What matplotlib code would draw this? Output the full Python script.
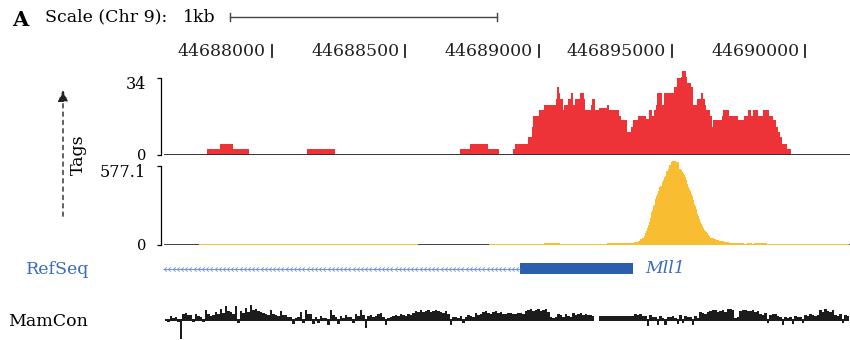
import numpy as np
import matplotlib
matplotlib.use("Agg")
from matplotlib import pyplot as plt
from matplotlib.transforms import blended_transform_factory

plt.rcParams['font.family'] = ['DejaVu Serif']

W, H = 850, 340
CHR0 = 44688000  # all offsets below are bp relative to this position

# ruler on top
ruler_pos = [44688000, 44688500, 44689000, 44689500, 44690000]
ruler_labels = ["44688000", "44688500", "44689000", "446895000", "44690000"]
scale_start = 44687843
scale_len = 1000

# red track (tags), step edges in bp offset and height per step
red_edges = [-243, -195, -146, -86, 131, 236, 704, 742, 809, 850, 903, 910, 962, 974, 981,
             1000, 1019, 1022, 1064, 1071, 1075, 1079, 1090, 1097, 1109, 1120, 1131, 1138,
             1157, 1172, 1176, 1198, 1202, 1213, 1225, 1258, 1266, 1300, 1311, 1333, 1348,
             1356, 1374, 1404, 1416, 1427, 1434, 1442, 1446, 1464, 1472, 1509, 1520, 1535,
             1539, 1554, 1558, 1573, 1580, 1595, 1610, 1618, 1625, 1629, 1644, 1652, 1655,
             1689, 1693, 1715, 1749, 1771, 1786, 1798, 1805, 1824, 1843, 1865, 1880, 1891,
             1899, 1906, 1914, 1932, 1947]
red_tags = [2.6, 4.9, 2.6, 0, 2.6, 0, 2.6, 4.9, 2.6, 0, 2.6, 4.9, 7.9, 12.4,
            17.2, 19.9, 17.2, 22, 24.7, 30, 27.4, 24.7, 19.9, 22, 24.7, 27.4, 22,
            24.7, 27.4, 24.7, 19.9, 22, 24.7, 19.9, 20.7, 22, 19.9, 17.2, 15.4, 10.1,
            12.4, 15.4, 17.2, 15.9, 19.9, 17.2, 19.9, 22, 27.4, 22, 27.4, 30, 34,
            34.4, 37, 34.4, 32, 30, 22, 24.7, 27.4, 24.7, 22, 19.9, 17.2, 12.4,
            15.4, 17.2, 19.9, 17.2, 15.4, 17.2, 19.9, 17.2, 19.9, 17.2, 19.9, 17.2, 15.4,
            12.4, 10.1, 7.9, 4.9, 2.6]

# yellow track: flat background pieces and the peak (one value per bin)
yel_bg_edges = [-273, 547, 813, 1019, 1082, 1228, 1258, 1359, 1374]
yel_bg_tags = [9, 0, 9, 14, 9, 10, 17, 24]
yel_peak_start = 1374
yel_peak_bin = 3.745
yel_peak_tags = [32, 32, 44, 44, 54, 54, 68, 88, 105, 124, 148, 170, 200, 239, 258, 282,
                 292, 336, 360, 372, 397, 421, 433, 433, 458, 477, 494, 506, 540, 540, 555,
                 584, 584, 608, 616, 616, 616, 616, 608, 604, 604, 555, 555, 548, 535, 526,
                 511, 494, 472, 445, 426, 409, 397, 372, 355, 329, 299, 287, 263, 226, 209,
                 190, 170, 153, 136, 127, 112, 105, 97, 88, 75, 63, 54, 54, 49, 49, 41, 41,
                 37, 37, 37]
yel_tail_edges = [1678, 1697, 1715, 1771, 1783, 1801, 1809, 1858, 2165]
yel_tail_tags = [32, 24, 17, 10, 17, 10, 17, 10]

# RefSeq gene (minus strand)
gene_start = -408
cds_start = 929
cds_end = 1356

# mammalian conservation
mamcon_start = -401
mamcon_end = 2165
mamcon = [1, -2, 4, 2, 3, -2, -19, 6, 7, 5, 5, -2, 6, 4, 3, -2, 10, 6, 4, 5,
          8, 6, 11, 7, 14, 9, 8, 6, 14, -3, 9, 7, 12, 8, 15, 10, 11, 9, 8, 7,
          6, 5, 10, 6, 5, 4, 9, 5, 5, 3, 3, -4, 2, 3, 8, -3, 10, 6, 6, -4,
          3, -3, 4, 2, 2, -5, 10, 5, 3, -4, 4, 2, 5, 3, 3, -3, 6, 4, 10, 5,
          -8, 4, 5, 3, 4, 6, 7, 3, -5, 2, 3, 4, 5, 4, 6, 5, 4, 6, 5, 7,
          9, 8, 10, 8, 9, 10, 8, 9, 10, 9, 8, 7, 9, 6, -5, 3, 3, 2, 4, -3,
          3, 5, 4, 3, 7, 5, 6, 8, 9, 7, 6, 8, 9, 7, 8, 6, 6, 7, 7, 6,
          6, 7, 7, 6, 9, 10, 11, 9, 10, 11, 9, 10, 11, 8, 3, 2, 3, 6, 5, 3,
          6, 4, 3, 7, 5, 6, 7, 5, 6, 5, 5, 4, np.nan, np.nan, 4, 4, 4, 4, 4, 4,
          4, 4, 4, 4, 4, 4, 4, 4, 6, 5, 6, 4, 4, -6, 5, 3, 3, -5, 4, 2,
          -5, 3, 3, 4, 2, -4, 5, -3, 4, 3, 3, -5, 4, 2, 8, 7, 6, 8, 9, 10,
          10, 8, 9, 10, 8, 11, 11, 10, 2, 3, 9, 10, 10, 9, 9, 10, 8, 9, 6, 5,
          7, -3, 5, 6, 6, 4, 3, -5, 3, 2, 3, -4, 4, 3, 3, -3, 5, 4, 6, 5,
          4, 5, 10, 8, 11, 9, 8, 10, 5, 4, 6, -3, 5, 4]

RED = "#ed3338"
YELLOW = "#f8bd30"
BLUE = "#2b5fab"
BLUE_LIGHT = "#6b94d0"
BLUE_TXT = "#3b6cc0"
DARK = "#1c1c1c"

view = (CHR0 - 416, CHR0 + 2168)


def box(x0, y0, x1, y1):
    return [x0 / W, 1 - y1 / H, (x1 - x0) / W, (y1 - y0) / H]


def fy(y):
    return 1 - y / H


fig = plt.figure(figsize=(W / 100, H / 100), dpi=100)

ax_red = fig.add_axes(box(161, 78, 850, 155))
ax_yel = fig.add_axes(box(161, 166, 850, 245))
ax_ref = fig.add_axes(box(161, 256, 850, 281))
ax_con = fig.add_axes(box(161, 300, 850, 340))

for ax in [ax_red, ax_yel, ax_ref, ax_con]:
    ax.set_xlim(*view)
    ax.set_xticks([])
    for s in ["top", "right", "bottom"]:
        ax.spines[s].set_visible(False)
for ax in [ax_ref, ax_con]:
    ax.spines["left"].set_visible(False)
    ax.set_yticks([])

# red
ax_red.stairs(red_tags, CHR0 + np.array(red_edges), fill=True, color=RED, lw=0, clip_on=False)
ax_red.hlines(0, CHR0 - 405, view[1], color="#333333", lw=1.4, zorder=3)
ax_red.set_ylim(0, 34)

# yellow
ax_yel.hlines(0, CHR0 - 405, view[1], color="#333333", lw=1.3, zorder=1)
ax_yel.stairs(yel_bg_tags, CHR0 + np.array(yel_bg_edges), fill=True, color=YELLOW, lw=0, zorder=2)
peak_edges = CHR0 + yel_peak_start + yel_peak_bin * np.arange(len(yel_peak_tags) + 1)
ax_yel.stairs(yel_peak_tags, peak_edges, fill=True, color=YELLOW, lw=0, clip_on=False, zorder=2)
ax_yel.stairs(yel_tail_tags, CHR0 + np.array(yel_tail_edges), fill=True, color=YELLOW, lw=0, zorder=2)
ax_yel.set_ylim(0, 577.1)

for ax, top, top_lab in [(ax_red, 34, "34"), (ax_yel, 577.1, "577.1")]:
    ax.spines["left"].set_bounds(0, top)
    ax.spines["left"].set_linewidth(0.9)
    ax.set_yticks([0, top], ["", ""])
    ax.tick_params(axis="y", length=3, width=0.9)
    tr = blended_transform_factory(ax.transAxes, ax.transData)
    ax.annotate(top_lab, xy=(0, top), xycoords=tr, xytext=(-15, 2), textcoords="offset pixels",
                ha="right", va="top", fontsize=11.5)
    ax.annotate("0", xy=(0, 0), xycoords=tr, xytext=(-15, -1), textcoords="offset pixels",
                ha="right", va="center", fontsize=10.5)

# RefSeq
ax_ref.set_ylim(-1, 1)
ax_ref.hlines(0, CHR0 + gene_start, CHR0 + cds_start, color=BLUE_LIGHT, lw=0.7)
chev = np.arange(CHR0 + gene_start + 8, CHR0 + cds_start - 4, 15.7)
ax_ref.plot(chev, np.zeros_like(chev), ls="none", marker=[(0.6, 1), (-0.6, 0), (0.6, -1)],
            ms=3, mfc="none", mec=BLUE_LIGHT, mew=0.6)
ax_ref.barh(0, cds_end - cds_start, left=CHR0 + cds_start, height=0.9, color=BLUE, lw=0)
ax_ref.annotate("Mll1", xy=(CHR0 + cds_end, 0), xytext=(12, 0), textcoords="offset pixels",
                style="italic", color=BLUE_TXT, fontsize=12.5, va="center", ha="left")

# conservation
mc = np.array(mamcon, dtype=float)
step = (mamcon_end - mamcon_start) / len(mc)
lefts = CHR0 + mamcon_start + step * np.arange(len(mc))
ok = ~np.isnan(mc)
ax_con.bar(lefts[ok], np.full(ok.sum(), 2.5), bottom=-1, width=step, align="edge", color=DARK, lw=0)
ax_con.bar(lefts[ok], mc[ok], width=step, align="edge", color=DARK, lw=0)
ax_con.set_ylim(-20, 20)

# ruler labels and ticks
blend = blended_transform_factory(ax_red.transData, fig.transFigure)
for p, lab in zip(ruler_pos, ruler_labels):
    ax_red.annotate(lab, xy=(p, fy(51)), xycoords=blend, xytext=(-6, 0), textcoords="offset pixels",
                    ha="right", va="center", fontsize=12.5, color="#222222")
    ax_red.plot([p, p], [fy(45), fy(57)], transform=blend, color="#222222", lw=1.3, clip_on=False)

# scale bar
ax_red.plot([scale_start, scale_start + scale_len], [fy(17), fy(17)], transform=blend,
            color="#444444", lw=1, clip_on=False)
for p in [scale_start, scale_start + scale_len]:
    ax_red.plot([p, p], [fy(13), fy(21)], transform=blend, color="#444444", lw=1, clip_on=False)

fig.text(12 / W, fy(20), "A", fontweight="bold", fontsize=15, va="center", ha="left")
fig.text(45 / W, fy(17), "Scale (Chr 9):", fontsize=12.5, va="center", ha="left")
fig.text(183 / W, fy(17), "1kb", fontsize=12.5, va="center", ha="left")
fig.text(78 / W, fy(155), "Tags", rotation=90, fontsize=12.5, va="center", ha="center")
fig.text(89 / W, fy(269), "RefSeq", fontsize=12.5, va="center", ha="right", color=BLUE_TXT)
fig.text(8 / W, fy(322), "MamCon", fontsize=12.5, va="center", ha="left")

ax_red.annotate("", xy=(63 / W, fy(87)), xytext=(63 / W, fy(219)), xycoords="figure fraction",
                arrowprops=dict(arrowstyle="-|>,head_length=0.7,head_width=0.3",
                                ls=(0, (3, 3)), color="#222222", lw=1))

fig.savefig("out.png", dpi=100)
